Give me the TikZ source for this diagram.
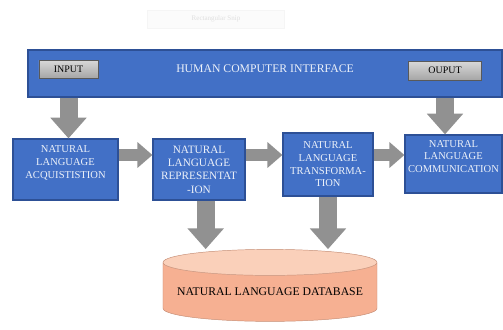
\documentclass[tikz,border=0pt]{standalone}
\usepackage{fontspec}
\setmainfont{Liberation Serif}
\usetikzlibrary{positioning,arrows.meta,calc,shapes.geometric}
\definecolor{hciblue}{RGB}{66,112,198}
\definecolor{hciedge}{RGB}{45,80,150}
\definecolor{fatgray}{RGB}{145,145,145}
\definecolor{dbsalmon}{RGB}{246,176,146}
\definecolor{dbtop}{RGB}{250,208,186}
\tikzset{
  stage/.style={draw=hciedge, line width=1pt, fill=hciblue, text=white!90!hciblue,
    align=center, font=\fontsize{9}{10.8}\selectfont, inner sep=1pt},
  button/.style={draw=gray!70!black, top color=gray!30, bottom color=gray!70,
    font=\fontsize{8.5}{10}\selectfont, inner sep=0pt},
  fatarrow/.style={draw=fatgray, line width=0.54cm, -{Triangle[width=1.05cm,length=0.62cm]}},
  slimarrow/.style={draw=fatgray, line width=0.36cm, -{Triangle[width=0.75cm,length=0.45cm]}},
  dbnode/.style={cylinder, shape border rotate=90, aspect=0.14, draw=dbsalmon!80!black,
    cylinder uses custom fill, cylinder body fill=dbsalmon, cylinder end fill=dbtop,
    font=\fontsize{10}{12}\selectfont, inner sep=0pt}
}

\begin{document}
\begin{tikzpicture}[x=0.03cm,y=-0.03cm]
\useasboundingbox (0,0) rectangle (503,329);
% screen snip left over at the top
\node[draw=gray!8, fill=gray!3, text=gray!25, font=\fontsize{6}{7}\selectfont,
  minimum width=4.1cm, minimum height=0.54cm] (snip) at (216,19) {Rectangular Snip};
% interface bar with its two buttons
\node[stage, minimum width=14.22cm, minimum height=1.41cm, text depth=0.32cm,
  font=\fontsize{10}{12}\selectfont] (hci) at (265,73.5) {HUMAN COMPUTER INTERFACE};
\node[button, minimum width=1.77cm, minimum height=0.54cm] (in) at (68.5,69) {INPUT};
\node[button, minimum width=2.2cm, minimum height=0.57cm] (out) at (445,70.5) {OUPUT};
% processing stages
\node[stage, minimum width=3.15cm, minimum height=1.83cm, text depth=0.45cm] (acq) at (65.5,169.5)
  {NATURAL\\LANGUAGE\\ACQUISTISTION};
\node[stage, minimum width=2.76cm, minimum height=1.83cm, font=\fontsize{9.6}{11.4}\selectfont]
  (rep) at (199,169.5) {NATURAL\\LANGUAGE\\REPRESENTAT\\-ION};
\node[stage, minimum width=2.70cm, minimum height=1.89cm] (trf) at (328,164.5)
  {NATURAL\\LANGUAGE\\TRANSFORMA-\\TION};
\node[stage, minimum width=2.91cm, minimum height=1.74cm, text depth=0.45cm] (com) at (453.5,164)
  {NATURAL\\LANGUAGE\\COMMUNICATION};
% database
\node[dbnode, minimum width=6.42cm, minimum height=2.16cm] (db) at (270,292)
  {NATURAL LANGUAGE DATABASE};
\coordinate (flow) at (0,155);
% connectors
\draw[fatarrow] (in.south |- hci.south) -- (in.south |- acq.north);
\draw[fatarrow] (out.south |- hci.south) -- (out.south |- com.north);
\draw[slimarrow] (acq.east |- flow) -- (rep.west |- flow);
\draw[slimarrow] (rep.east |- flow) -- (trf.west |- flow);
\draw[slimarrow] (trf.east |- flow) -- (com.west |- flow);
\draw[fatarrow] ([xshift=0.2cm]rep.south) -- ([xshift=0.2cm]rep.south |- db.north);
\draw[fatarrow] (trf.south) -- (trf.south |- db.north);
\end{tikzpicture}
\end{document}
